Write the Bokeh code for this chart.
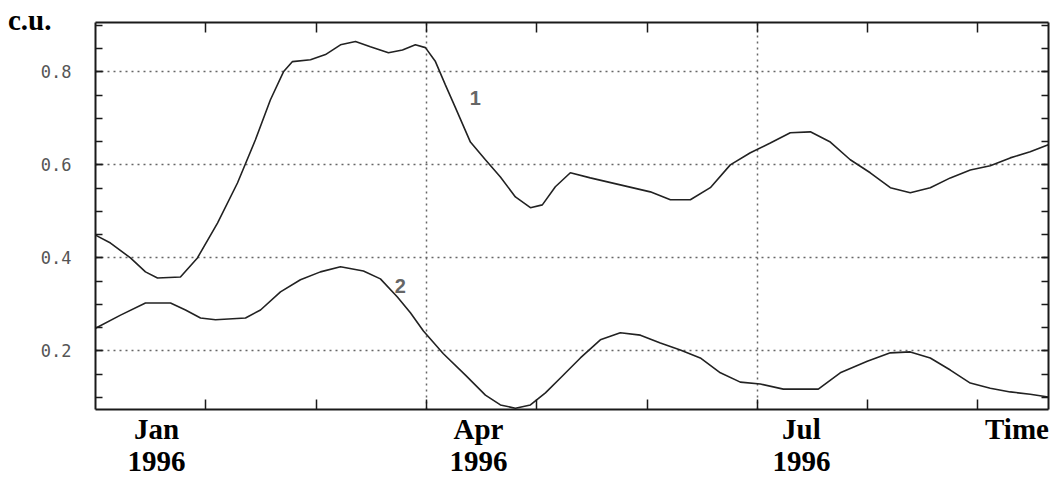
from bokeh.plotting import figure
from bokeh.models import Range1d, LinearAxis, FixedTicker, Label, PrintfTickFormatter
from bokeh.embed import file_html
from bokeh.resources import INLINE

# Time in months counted from 1 Jan 1996; values in conventional units (c.u.)
t1 = [0.000, 0.136, 0.317, 0.453, 0.562, 0.770, 0.924, 1.106, 1.287, 1.450,
      1.586, 1.704, 1.786, 1.949, 2.085, 2.221, 2.357, 2.492, 2.656, 2.783,
      2.900, 2.991, 3.082, 3.172, 3.263, 3.399, 3.535, 3.671, 3.807, 3.943,
      4.051, 4.169, 4.305, 4.486, 4.758, 5.030, 5.212, 5.393, 5.574, 5.755,
      5.937, 6.118, 6.299, 6.481, 6.662, 6.843, 7.024, 7.206, 7.387, 7.568,
      7.750, 7.931, 8.112, 8.293, 8.474, 8.638]
s1 = [0.449, 0.432, 0.400, 0.370, 0.357, 0.359, 0.400, 0.475, 0.561, 0.654,
      0.740, 0.800, 0.822, 0.826, 0.837, 0.858, 0.865, 0.854, 0.841, 0.847,
      0.858, 0.852, 0.822, 0.772, 0.723, 0.649, 0.611, 0.574, 0.531, 0.508,
      0.514, 0.553, 0.583, 0.572, 0.557, 0.542, 0.525, 0.525, 0.551, 0.600,
      0.626, 0.647, 0.669, 0.671, 0.649, 0.611, 0.583, 0.551, 0.540, 0.551,
      0.572, 0.589, 0.598, 0.615, 0.628, 0.643]

t2 = [0.000, 0.227, 0.453, 0.680, 0.816, 0.952, 1.088, 1.360, 1.496, 1.677,
      1.858, 2.039, 2.221, 2.429, 2.583, 2.737, 2.855, 2.973, 3.154, 3.354,
      3.535, 3.671, 3.807, 3.943, 4.079, 4.215, 4.396, 4.577, 4.758, 4.940,
      5.121, 5.302, 5.483, 5.665, 5.846, 6.027, 6.236, 6.390, 6.553, 6.752,
      6.997, 7.206, 7.387, 7.568, 7.750, 7.931, 8.112, 8.293, 8.474, 8.638]
s2 = [0.249, 0.277, 0.303, 0.303, 0.288, 0.271, 0.267, 0.271, 0.288, 0.327,
      0.353, 0.370, 0.381, 0.372, 0.355, 0.316, 0.282, 0.243, 0.194, 0.148,
      0.105, 0.084, 0.077, 0.084, 0.110, 0.142, 0.185, 0.224, 0.239, 0.234,
      0.217, 0.202, 0.185, 0.153, 0.133, 0.129, 0.118, 0.118, 0.118, 0.153,
      0.178, 0.196, 0.198, 0.185, 0.159, 0.131, 0.120, 0.112, 0.107, 0.101]

y_major = [0.2, 0.4, 0.6, 0.8]
y_minor = [0.1, 0.15, 0.2, 0.25, 0.3, 0.35, 0.4, 0.45, 0.5, 0.55, 0.6,
           0.65, 0.7, 0.75, 0.8, 0.85, 0.9]
month_ticks = [1, 2, 3, 4, 5, 6, 7, 8]
x_grid = [3, 6]

# captions along the time axis
caption_pos = [0.553, 3.472, 6.40, 8.354]
caption_text = ["Jan\n1996", "Apr\n1996", "Jul\n1996", "Time"]

# unit caption on the value axis
unit_pos = [0.892]
unit_text = ["c.u.\n"]

INK = "#1a1a1a"
GRID = "#666666"
SERIF = "Liberation Serif"

p = figure(width=1055, height=479,
           x_range=Range1d(0, 8.64), y_range=Range1d(0.0742, 0.906),
           output_backend="svg", toolbar_location=None,
           min_border_left=95, min_border_right=7,
           min_border_top=22, min_border_bottom=69,
           background_fill_color="white", border_fill_color="white")
p.outline_line_color = None


def frame_axis(ax, ticker, tick_len):
    ax.ticker = ticker
    ax.axis_line_color = INK
    ax.axis_line_width = 2
    ax.major_tick_line_color = INK
    ax.minor_tick_line_color = INK
    ax.major_tick_line_width = 1.5
    ax.minor_tick_line_width = 1.5
    ax.major_tick_in = tick_len
    ax.major_tick_out = 0
    ax.minor_tick_in = tick_len
    ax.minor_tick_out = 0


def hide_labels(ax):
    ax.major_label_text_font_size = "0px"
    ax.major_label_text_color = None
    ax.major_label_standoff = 0


def caption_style(ax):
    ax.major_label_text_font = SERIF
    ax.major_label_text_font_size = "29px"
    ax.major_label_text_font_style = "bold"
    ax.major_label_text_color = "black"
    ax.major_label_text_line_height = 1.0


left = p.yaxis[0]
frame_axis(left, FixedTicker(ticks=y_major, minor_ticks=y_minor), 7)
left.formatter = PrintfTickFormatter(format="%.1f")
left.major_label_text_font = "DejaVu Sans Mono"
left.major_label_text_font_size = "17px"
left.major_label_text_color = "#555555"
left.major_label_standoff = 24

# outer value axis that only carries the unit caption
unit_axis = LinearAxis(ticker=FixedTicker(ticks=unit_pos, minor_ticks=[]))
unit_axis.major_label_overrides = dict(zip(unit_pos, unit_text))
caption_style(unit_axis)
unit_axis.axis_line_color = None
unit_axis.major_tick_line_color = None
unit_axis.major_tick_in = 0
unit_axis.major_tick_out = 0
unit_axis.minor_tick_line_color = None
unit_axis.major_label_standoff = -14
p.add_layout(unit_axis, "left")

# bottom axis: month ticks drawn as minor ticks, captions as major labels
bottom = p.xaxis[0]
frame_axis(bottom, FixedTicker(ticks=caption_pos, minor_ticks=month_ticks), 10)
bottom.major_tick_in = 0
bottom.major_tick_line_color = None
bottom.major_label_overrides = dict(zip(caption_pos, caption_text))
caption_style(bottom)
bottom.major_label_standoff = 3

right = LinearAxis()
frame_axis(right, FixedTicker(ticks=y_major, minor_ticks=y_minor), 7)
hide_labels(right)
p.add_layout(right, "right")

top = LinearAxis()
frame_axis(top, FixedTicker(ticks=month_ticks, minor_ticks=[]), 10)
hide_labels(top)
p.add_layout(top, "above")

# dotted reference grid
p.ygrid.ticker = FixedTicker(ticks=y_major)
p.xgrid.ticker = FixedTicker(ticks=x_grid)
for g in (p.xgrid[0], p.ygrid[0]):
    g.grid_line_color = GRID
    g.grid_line_width = 1.5
    g.grid_line_dash = "2 4"

# the two series
p.line(t1, s1, line_color="#222222", line_width=1.6)
p.line(t2, s2, line_color="#222222", line_width=1.6)

for xv, yv, tag in [(3.444, 0.744, "1"), (2.764, 0.340, "2")]:
    p.add_layout(Label(x=xv, y=yv, text=tag, text_font="Liberation Sans",
                       text_font_size="20px", text_font_style="bold",
                       text_color="#666666",
                       text_align="center", text_baseline="middle"))

open("out.html", "w").write(file_html(p, INLINE))
